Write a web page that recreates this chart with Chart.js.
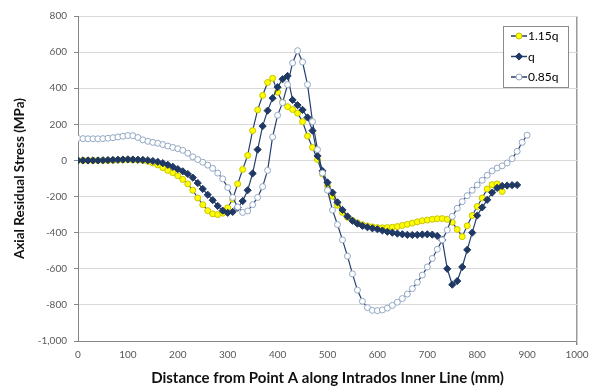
<!DOCTYPE html>
<html>
<head>
<meta charset="utf-8">
<script src="https://cdn.jsdelivr.net/npm/chart.js"></script>
<style>
  html, body { margin: 0; padding: 0; background: #ffffff; }
  #wrap { width: 597px; height: 387px; }
</style>
</head>
<body>
<div id="wrap"><canvas id="c" width="597" height="387"></canvas></div>
<script>
// Distance along intrados inner line (mm)
const distance = [0,10,20,30,40,50,60,70,80,90,100,110,120,130,140,150,160,170,180,190,
  200,210,220,230,240,250,260,270,280,290,300,310,320,330,340,350,360,370,380,390,
  400,410,420,430,440,450,460,470,480,490,500,510,520,530,540,550,560,570,580,590,
  600,610,620,630,640,650,660,670,680,690,700,710,720,730,740,750,760,770,780,790,
  800,810,820,830,840,850,860,870,880,890,900];

const seriesNames = ['1.15q', 'q', '0.85q'];

// 1.15q (0 .. 850 mm)
const stress115 = [0,0,0,0,0,0,0,1,2,3,4,3,2,0,-5,-14,-25,-40,-55,-68,
  -85,-105,-130,-165,-208,-245,-278,-296,-300,-292,-262,-215,-130,-50,28,165,280,360,432,455,
  378,322,298,282,262,215,135,72,5,-75,-140,-198,-248,-288,-315,-332,-346,-356,-363,-368,
  -372,-373,-372,-370,-366,-360,-354,-347,-340,-334,-330,-326,-323,-322,-326,-342,-382,-422,-362,-305,
  -255,-208,-158,-134,-130,-172];

// q (0 .. 880 mm)
const stressQ = [0,0,0,0,0,1,2,3,4,5,6,5,4,3,1,-3,-8,-15,-24,-35,
  -48,-60,-75,-95,-125,-158,-190,-220,-252,-278,-290,-285,-262,-225,-165,-72,60,190,276,345,
  406,450,468,335,306,280,238,165,25,-58,-122,-178,-232,-274,-310,-334,-350,-362,-370,-376,
  -381,-388,-395,-400,-405,-409,-412,-413,-412,-410,-409,-411,-418,-440,-600,-688,-668,-590,-495,-400,
  -305,-260,-218,-178,-152,-141,-139,-137,-136];

// 0.85q (0 .. 900 mm)
const stress085 = [122,121,120,120,120,121,123,126,130,134,138,137,127,114,106,100,95,88,80,72,
  65,56,40,20,5,-10,-26,-44,-70,-102,-150,-205,-258,-288,-280,-245,-205,-145,-55,130,
  250,320,420,540,608,545,420,215,60,-70,-165,-275,-355,-440,-530,-628,-718,-780,-815,-830,
  -832,-828,-818,-803,-785,-765,-740,-710,-675,-635,-590,-543,-492,-440,-385,-310,-265,-228,-195,-165,
  -136,-110,-82,-58,-42,-30,-14,10,50,100,140];

const xTicks = [0,100,200,300,400,500,600,700,800,900,1000];
const yTicks = [-1000,-800,-600,-400,-200,0,200,400,600,800];

function toPoints(vals) {
  return vals.map((v, i) => ({ x: distance[i], y: v }));
}

const LINE = '#243f6e';
const styles = [
  { pointStyle: 'circle', radius: 3, fill: '#ffff00', border: '#c8c400', line: LINE },
  { pointStyle: 'rectRot', radius: 3.6, fill: '#1f3864', border: '#1f3864', line: LINE },
  { pointStyle: 'circle', radius: 3, fill: '#ffffff', border: '#93a8c4', line: LINE }
];
const allValues = [stress115, stressQ, stress085];

const datasets = allValues.map((vals, k) => ({
  label: seriesNames[k],
  data: toPoints(vals),
  borderColor: styles[k].line,
  borderWidth: 1.2,
  pointStyle: styles[k].pointStyle,
  pointRadius: styles[k].radius,
  pointBackgroundColor: styles[k].fill,
  pointBorderColor: styles[k].border,
  pointBorderWidth: 1,
  tension: 0,
  order: 3 - k
}));

function drawMarker(ctx, st, x, y) {
  ctx.save();
  ctx.fillStyle = st.fill;
  ctx.strokeStyle = st.border;
  ctx.lineWidth = 1;
  ctx.beginPath();
  if (st.pointStyle === 'rectRot') {
    const r = st.radius;
    ctx.moveTo(x, y - r); ctx.lineTo(x + r, y); ctx.lineTo(x, y + r); ctx.lineTo(x - r, y); ctx.closePath();
  } else {
    ctx.arc(x, y, st.radius, 0, Math.PI * 2);
  }
  ctx.fill();
  ctx.stroke();
  ctx.restore();
}

const boxLegend = {
  id: 'boxLegend',
  afterDraw(chart) {
    const ctx = chart.ctx;
    const a = chart.chartArea;
    const bx = a.right - 74, by = a.top + 10, bw = 65, bh = 61;
    ctx.save();
    ctx.fillStyle = '#ffffff';
    ctx.fillRect(bx, by, bw, bh);
    ctx.strokeStyle = '#8c8c8c';
    ctx.lineWidth = 1;
    ctx.strokeRect(bx + 0.5, by + 0.5, bw, bh);
    seriesNames.forEach((name, k) => {
      const y = by + 10 + k * 20.5;
      ctx.strokeStyle = styles[k].line;
      ctx.lineWidth = 1.5;
      ctx.beginPath();
      ctx.moveTo(bx + 8, y);
      ctx.lineTo(bx + 24, y);
      ctx.stroke();
      drawMarker(ctx, styles[k], bx + 16, y);
      ctx.fillStyle = '#000000';
      ctx.font = '12px Lato, "Open Sans", sans-serif';
      ctx.textBaseline = 'middle';
      ctx.textAlign = 'left';
      ctx.fillText(name, bx + 25, y + 0.5);
    });
    ctx.restore();
  }
};

new Chart(document.getElementById('c'), {
  type: 'line',
  data: { datasets },
  options: {
    responsive: false,
    animation: false,
    devicePixelRatio: 1,
    layout: { padding: { left: 12, right: 20, top: 16, bottom: 0 } },
    plugins: {
      legend: { display: false },
      tooltip: { enabled: false }
    },
    scales: {
      x: {
        type: 'linear',
        min: 0, max: 1000,
        afterBuildTicks: (s) => { s.ticks = xTicks.map(v => ({ value: v })); },
        afterFit: (s) => { s.height = 46; },
        ticks: {
          callback: (v) => String(v),
          color: '#595959',
          font: { family: 'Lato, "Open Sans", sans-serif', size: 10 },
          padding: 4,
          maxRotation: 0
        },
        grid: {
          drawOnChartArea: true,
          color: (c) => (c.tick && c.tick.value === 1000 ? '#9a9a9a' : 'rgba(0,0,0,0)'),
          lineWidth: (c) => (c.tick && c.tick.value === 1000 ? 1.5 : 0),
          tickColor: '#868686',
          tickLength: 4
        },
        border: { display: true, color: '#868686', width: 1 },
        title: {
          display: true,
          text: 'Distance from Point A along Intrados Inner Line (mm)',
          color: '#111111',
          font: { family: 'Lato, "Open Sans", sans-serif', size: 15, weight: 'bold' },
          padding: { top: 2, bottom: 0 }
        }
      },
      y: {
        type: 'linear',
        min: -1000, max: 800,
        afterBuildTicks: (s) => { s.ticks = yTicks.map(v => ({ value: v })); },
        afterFit: (s) => { s.width = 66; },
        ticks: {
          color: '#595959',
          font: { family: 'Lato, "Open Sans", sans-serif', size: 10 },
          padding: 7
        },
        grid: {
          color: '#d9d9d9',
          lineWidth: 1,
          tickColor: '#868686',
          tickLength: 4
        },
        border: { display: true, color: '#868686', width: 1 },
        title: {
          display: true,
          text: 'Axial Residual Stress (MPa)',
          color: '#111111',
          font: { family: 'Lato, "Open Sans", sans-serif', size: 13.5, weight: 'bold' },
          padding: { top: 0, bottom: 0 }
        }
      }
    }
  },
  plugins: [boxLegend]
});
</script>
</body>
</html>
